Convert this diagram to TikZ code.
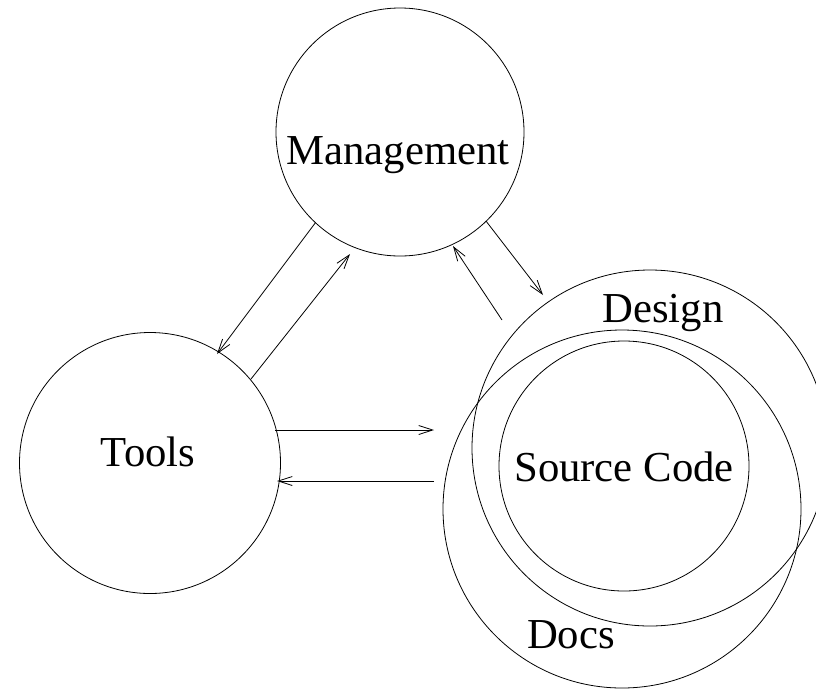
\documentclass[tikz,border=0pt]{standalone}
\usepackage{fontspec}
\setmainfont{Liberation Serif}
\usetikzlibrary{arrows.meta}
\begin{document}
\begin{tikzpicture}[x=1pt,y=-1pt,
  ring/.style={draw,circle,line width=0.8pt,inner sep=0pt,outer sep=0pt},
  lbl/.style={anchor=base,inner sep=0pt,font=\fontsize{42.7}{50}\selectfont},
  conn/.style={line width=0.8pt,-{Straight Barb[length=14pt,width=9pt,line width=0.8pt]}}]
\useasboundingbox (0,0) rectangle (816,689);
% circles
\node[ring,minimum size=248pt] (mgmt) at (400,132) {};
\node[ring,minimum size=261pt] (tools) at (150,463) {};
\node[ring,minimum size=356pt] (design) at (650,448) {};
\node[ring,minimum size=358pt] (docs) at (622,509) {};
\node[ring,minimum size=250pt] (src) at (624,466) {};
% labels
\node[lbl] (lmgmt) at (398,164) {Management};
\node[lbl] (ltools) at (148,466) {Tools};
\node[lbl] (ldesign) at (663,322) {Design};
\node[lbl] (lsrc) at (624,481) {Source Code};
\node[lbl] (ldocs) at (571,648) {Docs};
% free ends
\coordinate (a1) at (217,354);
\coordinate (a2s) at (251,379);
\coordinate (a2e) at (350,254);
\coordinate (a3e) at (543,295);
\coordinate (a4s) at (502,320);
\coordinate (a4e) at (453,246);
\coordinate (a5s) at (275,430);
\coordinate (a5e) at (434,430);
\coordinate (a6s) at (434,481);
\coordinate (a6e) at (277,481);
% connectors
\draw[conn] (mgmt.227) -- (a1);
\draw[conn] (a2s) -- (a2e);
\draw[conn] (mgmt.314) -- (a3e);
\draw[conn] (a4s) -- (a4e);
\draw[conn] (a5s) -- (a5e);
\draw[conn] (a6s) -- (a6e);
\end{tikzpicture}
\end{document}
